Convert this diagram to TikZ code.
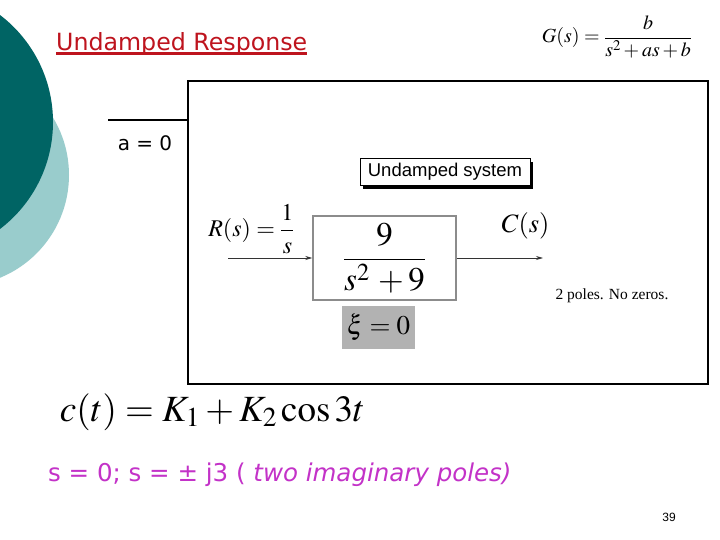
\documentclass[tikz,border=0pt]{standalone}
\usepackage{mathptmx}
\usepackage{fontspec}
\setmainfont{Liberation Serif}
\newfontfamily\verd{DejaVu Sans}
\newfontfamily\helv{Liberation Sans}
\usetikzlibrary{arrows.meta,calc}
\definecolor{darkteal}{RGB}{0,100,100}
\definecolor{lightteal}{RGB}{153,204,204}
\definecolor{titlered}{RGB}{190,20,30}
\definecolor{magtext}{RGB}{195,50,200}
\definecolor{xigray}{RGB}{178,178,178}
\tikzset{
  sig/.style={-{Stealth[length=7pt,width=4pt]}, line width=0.8pt, draw=black!80},
  blockbox/.style={draw=black!45, line width=1.5pt, minimum width=143pt, minimum height=84pt, inner sep=0pt},
  txt/.style={inner sep=0pt, anchor=center}
}
\begin{document}
\begin{tikzpicture}[x=1pt,y=-1pt]
\useasboundingbox (0,0) rectangle (720,540);
\fill[white] (0,0) rectangle (720,540);
% decorative circles
\begin{scope}
\clip (0,0) rectangle (720,540);
\fill[lightteal] (-42,175) circle (111);
\fill[darkteal] (-81.5,122) circle (134.5);
\end{scope}
% title
\node[txt, anchor=base west, text=titlered, font=\verd\fontsize{23.7}{28}\selectfont] (title) at (56,50.5) {Undamped Response};
\draw[titlered, line width=2.8pt] ($(title.base west)+(0,3)$) -- ($(title.base east)+(0,3)$);
% G(s)
\node[txt] (gs) at (617,37) {\fontsize{20}{24}\selectfont $\displaystyle G(s)=\frac{b}{s^{2}+as+b}$};
% main frame
\node[draw=black, line width=2.2pt, minimum width=520pt, minimum height=303pt, inner sep=0pt, anchor=north west] (frame) at (187,80) {};
\coordinate (lstart) at (108,120);
\draw[line width=1.5pt] (lstart) -- (lstart -| frame.west);
\node[txt, font=\verd\fontsize{20}{24}\selectfont] (a0) at (145,143) {a = 0};
% undamped system label
\node[fill=black, minimum width=170pt, minimum height=27pt, inner sep=0pt] (shadow) at (448,176) {};
\node[draw=black, fill=white, line width=0.8pt, minimum width=170pt, minimum height=27pt, inner sep=0pt, font=\helv\fontsize{18.5}{22}\selectfont] (us) at (445,172) {Undamped system};
% block
\node[blockbox] (blk) at (384.5,258) {\fontsize{33}{38}\selectfont $\displaystyle\frac{9}{s^{2}\,+9}$};
\coordinate (rin) at (228,258);
\coordinate (cout) at (543,258);
\draw[sig] (rin) -- (blk.west);
\draw[sig] (blk.east) -- (cout);
\node[txt] (rs) at (251.5,229) {\fontsize{24}{28}\selectfont $\displaystyle R(s)=\frac{1}{s}$};
\node[txt] (cs) at (525.5,226) {\fontsize{26.5}{30}\selectfont $C(s)$};
\node[txt] (poles) at (612,296) {\fontsize{15.5}{18}\selectfont 2 poles. No zeros.};
\node[fill=xigray, minimum width=73pt, minimum height=43pt, inner sep=0pt] (xi) at (378.5,327.5) {\fontsize{27}{32}\selectfont $\xi=0$};
% response
\node[txt] (ct) at (212.5,412) {\fontsize{37}{42}\selectfont $c(t)=K_{1}+K_{2}\cos 3t$};
\node[txt, anchor=west, text=magtext, font=\verd\fontsize{24.5}{28}\selectfont] (poleslist) at (48,475) {s = 0; s = ± j3 ( \textit{two imaginary poles)}};
\node[txt, font=\helv\fontsize{12}{14}\selectfont] (pg) at (669,517) {39};
\end{tikzpicture}
\end{document}
